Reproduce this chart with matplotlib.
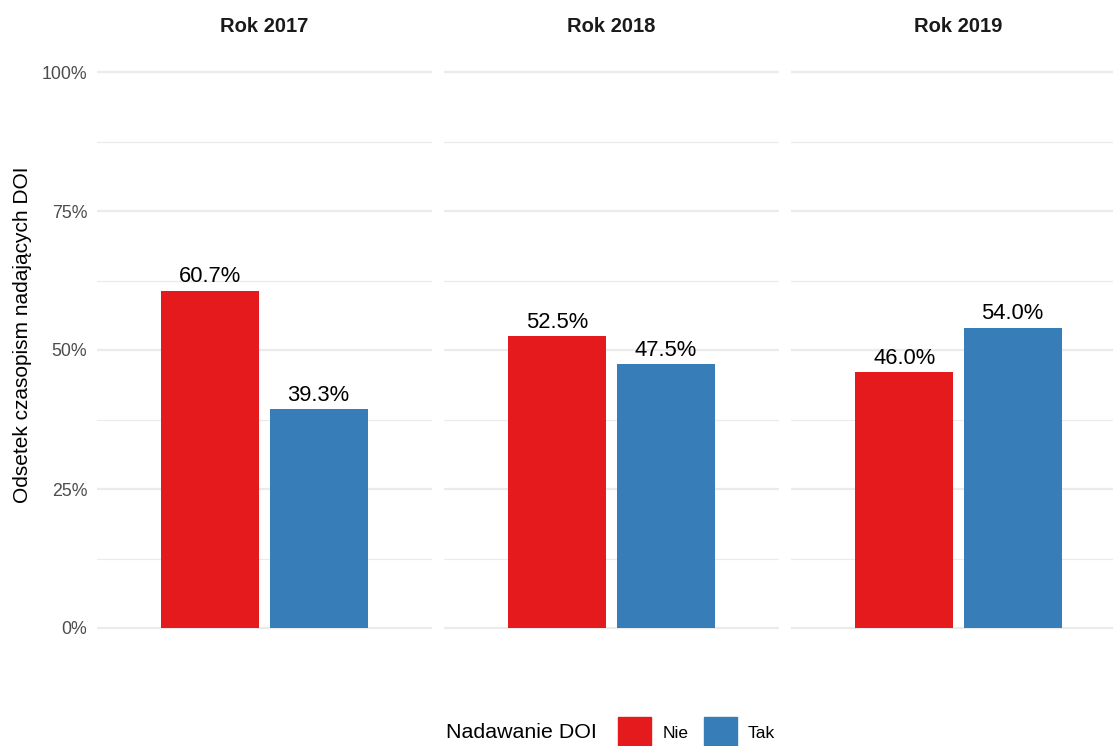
import matplotlib
matplotlib.use('Agg')
import matplotlib.pyplot as plt
from matplotlib.patches import Rectangle
from matplotlib.ticker import FixedLocator

plt.rcParams['font.family'] = ['Liberation Sans', 'DejaVu Sans']

years = ['Rok 2017', 'Rok 2018', 'Rok 2019']
groups = ['Nie', 'Tak']
nie = [60.7, 52.5, 46.0]
tak = [39.3, 47.5, 54.0]
colors = ['#E41A1C', '#377EB8']

W, H = 1113, 746
fig = plt.figure(figsize=(W / 100, H / 100), dpi=100)

panel_left = [97, 444, 791]
panel_w = 335
top_px, bot_px = 44.2, 655.8

offsets = [-0.1935, 0.1935]
bar_w = 0.351

for i, year in enumerate(years):
    ax = fig.add_axes([panel_left[i] / W, (H - bot_px) / H, panel_w / W, (bot_px - top_px) / H])
    ax.set_xlim(-0.6, 0.6)
    ax.set_ylim(-5, 105)
    for s in ax.spines.values():
        s.set_visible(False)
    ax.yaxis.set_major_locator(FixedLocator([0, 25, 50, 75, 100]))
    ax.yaxis.set_minor_locator(FixedLocator([12.5, 37.5, 62.5, 87.5]))
    ax.grid(True, which='major', axis='y', color='#EBEBEB', linewidth=1.6)
    ax.grid(True, which='minor', axis='y', color='#EBEBEB', linewidth=0.8)
    ax.set_axisbelow(True)
    ax.set_xticks([])
    ax.tick_params(axis='y', which='both', length=0, pad=7, labelsize=12.8, labelcolor='#4D4D4D')
    if i == 0:
        ax.set_yticklabels(['0%', '25%', '50%', '75%', '100%'])
    else:
        ax.set_yticklabels([])
    vals = [nie[i], tak[i]]
    for j, v in enumerate(vals):
        ax.bar(offsets[j], v, width=bar_w, color=colors[j])
        ax.annotate(f'{v:.1f}%', (offsets[j], v), xytext=(0, 6), textcoords='offset points',
                    ha='center', va='baseline', fontsize=15.8, color='black')
    fig.text((panel_left[i] + panel_w / 2) / W, 1 - 26 / H, year, ha='center', va='center',
             fontsize=14.5, fontweight='bold', color='#1A1A1A')

fig.text(23 / W, 1 - 335 / H, 'Odsetek czasopism nadających DOI', rotation=90,
         ha='center', va='center', fontsize=15.0)

# legend
ly = 1 - 733 / H
fig.text(446 / W, ly, 'Nadawanie DOI', ha='left', va='center', fontsize=15.4)
key_x = [618, 704]
lab_x = [663, 748]
for j, g in enumerate(groups):
    fig.patches.append(Rectangle((key_x[j] / W, 1 - 750 / H), 33 / W, 33 / H,
                                 transform=fig.transFigure, color=colors[j]))
    fig.text(lab_x[j] / W, ly, g, ha='left', va='center', fontsize=12.5)

fig.savefig('out.png', dpi=100)
